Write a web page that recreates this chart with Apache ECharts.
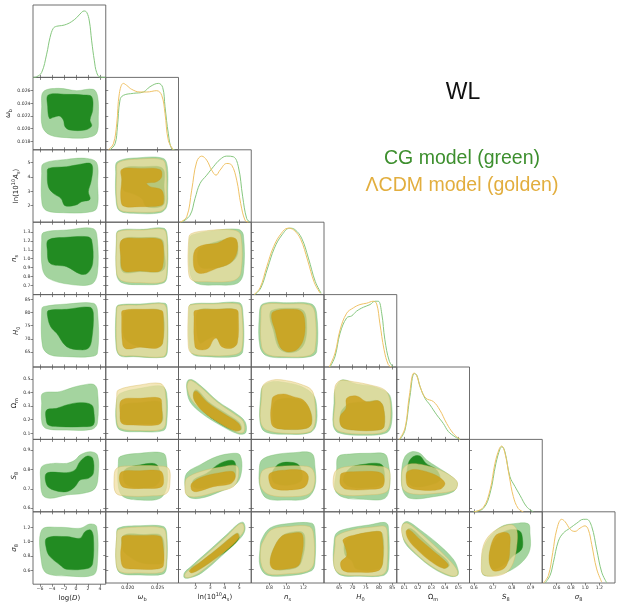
<!DOCTYPE html>
<html>
<head>
<meta charset="utf-8">
<script src="https://cdn.jsdelivr.net/npm/echarts@6/dist/echarts.min.js"></script>
<style>
  html, body { margin: 0; padding: 0; background: #fff; }
  #chart { width: 639px; height: 603px; }
</style>
</head>
<body>
<div id="chart"></div>
<script>
// Parameter order: log(D), ω_b, ln(10^10 A_s), n_s, H_0, Ω_m, S_8, σ_8
const xRanges = [[-7.167, 4.958], [0.01634, 0.02847], [0.814, 5.831], [0.5876, 1.4435], [59.23, 86.68], [0.0441, 0.583], [0.5762, 0.9611], [0.3965, 1.4211]];
const yRanges = [null, [0.01666, 0.0281], [0.848, 5.9], [0.596, 1.41], [59.26, 86.79], [0.0552, 0.5884], [0.5814, 0.9546], [0.4119, 1.4147]];
const xTicks = [[-6, -4, -2, 0, 2, 4], [0.020, 0.025], [2, 3, 4, 5], [0.8, 1.0, 1.2], [65, 70, 75, 80, 85], [0.1, 0.2, 0.3, 0.4, 0.5], [0.6, 0.7, 0.8, 0.9], [0.6, 0.8, 1.0, 1.2]];
const yTicks = [null, [0.018, 0.020, 0.022, 0.024, 0.026], [2, 3, 4, 5], [0.7, 0.8, 0.9, 1.0, 1.1, 1.2, 1.3], [65, 70, 75, 80, 85], [0.1, 0.2, 0.3, 0.4, 0.5], [0.6, 0.7, 0.8, 0.9], [0.6, 0.8, 1.0, 1.2]];
const tickDigits = [0, 3, 0, 1, 0, 1, 1, 1];
const paramLabels = [
  '{m|log(}{i|D}{m|)}',
  '{i|ω}{s|b}',
  '{m|ln(10}{p|10}{i|A}{s|s}{m|)}',
  '{i|n}{s|s}',
  '{i|H}{s|0}',
  '{m|Ω}{s|m}',
  '{i|S}{s|8}',
  '{i|σ}{s|8}'
];

// Marginal posteriors: [value, normalised density]
const logD_cg = [[-7.1,0],[-6.56,0.01],[-5.72,0.075],[-4.89,0.35],[-4.33,0.60],[-3.78,0.74],[-3.22,0.77],[-2.39,0.78],[-1.56,0.80],[-0.72,0.84],[0.11,0.90],[0.94,0.98],[1.33,1.0],[1.78,0.98],[2.22,0.85],[2.61,0.55],[3.06,0.25],[3.44,0.075],[4.0,0.005],[4.9,0]];
const wb_cg = [[0.01706,0],[0.01789,0.09],[0.01828,0.34],[0.01872,0.75],[0.01928,0.82],[0.02094,0.85],[0.02261,0.87],[0.02372,0.95],[0.02511,1.0],[0.02583,0.94],[0.02622,0.65],[0.02678,0.24],[0.02733,0.015],[0.0279,0]];
const wb_lc = [[0.01678,0],[0.01761,0.09],[0.01817,0.39],[0.01861,0.85],[0.01928,1.0],[0.01983,0.97],[0.02067,0.91],[0.02206,0.87],[0.02317,0.87],[0.02483,0.89],[0.02567,0.82],[0.02622,0.55],[0.02678,0.14],[0.02761,0]];
const As_cg = [[1.034,0],[1.609,0.105],[1.954,0.357],[2.299,0.583],[2.759,0.708],[3.218,0.834],[3.678,0.944],[4.138,0.995],[4.598,0.985],[4.943,0.834],[5.241,0.382],[5.517,0.055],[5.747,0]];
const As_lc = [[0.92,0],[1.379,0.08],[1.724,0.482],[2.069,0.909],[2.414,0.995],[2.759,0.934],[3.103,0.784],[3.402,0.708],[3.678,0.784],[4.138,0.884],[4.483,0.859],[4.828,0.633],[5.103,0.281],[5.402,0.03],[5.632,0]];
const ns_cg = [[0.63,0],[0.7,0.1],[0.78,0.4],[0.86,0.7],[0.95,0.9],[1.04,1.0],[1.1,0.98],[1.18,0.85],[1.26,0.55],[1.34,0.2],[1.41,0.02]];
const ns_lc = [[0.62,0],[0.69,0.1],[0.77,0.42],[0.85,0.72],[0.94,0.92],[1.02,1.0],[1.09,0.97],[1.17,0.83],[1.25,0.52],[1.33,0.18],[1.40,0.02]];
const H0_cg = [[61.5,0],[63.4,0.16],[65.3,0.51],[67.8,0.74],[69.7,0.77],[71.5,0.84],[74.1,0.90],[76.6,0.94],[78.5,0.99],[79.7,0.99],[81.0,0.81],[82.2,0.41],[83.9,0.085],[85.4,0]];
const H0_lc = [[61.2,0],[63.4,0.21],[65.3,0.56],[67.8,0.81],[70.3,0.89],[72.8,0.94],[75.3,0.96],[77.8,0.99],[79.1,0.95],[80.3,0.66],[81.9,0.26],[83.5,0.035],[84.7,0]];
const Om_cg = [[0.068,0],[0.105,0.14],[0.142,0.65],[0.174,0.99],[0.192,0.97],[0.216,0.8],[0.253,0.62],[0.29,0.52],[0.34,0.37],[0.389,0.24],[0.426,0.12],[0.475,0.04],[0.513,0]];
const Om_lc = [[0.063,0],[0.105,0.17],[0.137,0.65],[0.172,1.0],[0.192,0.96],[0.221,0.77],[0.26,0.62],[0.315,0.57],[0.364,0.44],[0.414,0.24],[0.463,0.09],[0.513,0]];
const S8_cg = [[0.596,0],[0.649,0.05],[0.685,0.28],[0.716,0.73],[0.738,0.95],[0.748,0.98],[0.764,0.9],[0.79,0.53],[0.817,0.38],[0.843,0.25],[0.879,0.075],[0.914,0]];
const S8_lc = [[0.6,0],[0.649,0.065],[0.685,0.33],[0.711,0.73],[0.734,0.95],[0.746,0.99],[0.764,0.88],[0.787,0.53],[0.808,0.23],[0.834,0.05],[0.861,0]];
const s8_cg = [[0.436,0],[0.506,0.115],[0.553,0.315],[0.623,0.64],[0.694,0.765],[0.788,0.84],[0.882,0.915],[0.976,0.975],[1.023,0.975],[1.093,0.865],[1.163,0.515],[1.234,0.165],[1.304,0.005]];
const s8_lc = [[0.412,0],[0.483,0.115],[0.544,0.465],[0.6,0.815],[0.67,0.975],[0.717,0.94],[0.797,0.815],[0.858,0.79],[0.929,0.84],[0.999,0.875],[1.046,0.815],[1.093,0.59],[1.163,0.215],[1.234,0.015]];

// 2D credible regions (95% and 68%), boundary points as [x, y]
const wb_D_cg95 = [[-5.44,0.02584],[-2.94,0.02637],[0.11,0.0260],[2.89,0.02621],[3.61,0.02505],[3.72,0.0219],[3.44,0.01927],[1.78,0.01858],[-1.56,0.01858],[-4.33,0.0190],[-5.61,0.02032],[-5.72,0.02348]];
const wb_D_cg68 = [[-4.61,0.02532],[-1.56,0.02542],[1.22,0.02532],[2.61,0.02505],[2.78,0.02295],[2.33,0.02137],[2.61,0.02042],[1.5,0.01979],[-1.0,0.01979],[-1.83,0.02032],[-2.11,0.02137],[-2.78,0.0220],[-3.78,0.02179],[-4.44,0.02163],[-4.72,0.02348]];

const As_D_cg95 = [[-5.44,4.93],[-1.56,5.23],[1.78,5.30],[3.44,5.0],[3.61,3.56],[3.44,1.81],[1.78,1.53],[-2.11,1.51],[-4.89,1.65],[-5.67,2.16],[-5.72,4.26]];
const As_D_cg68 = [[-4.61,4.60],[-1.56,4.72],[0.94,4.91],[2.44,4.95],[2.78,4.60],[2.5,3.67],[2.06,2.98],[2.33,2.44],[0.94,2.28],[0.0,2.05],[-1.83,2.0],[-2.5,2.51],[-3.78,2.86],[-4.61,3.33],[-4.78,4.26]];
const As_wb_cg95 = [[0.01828,5.07],[0.02206,5.35],[0.02594,5.30],[0.02661,4.72],[0.02667,3.09],[0.0265,1.93],[0.02539,1.51],[0.02094,1.47],[0.01861,1.65],[0.01806,2.40],[0.018,4.26]];
const As_wb_cg68 = [[0.01939,4.63],[0.02261,4.72],[0.02583,4.6],[0.02606,3.33],[0.02594,2.05],[0.02317,1.93],[0.02233,2.51],[0.02067,2.86],[0.01928,3.09],[0.01906,4.02]];
const As_wb_lc95 = [[0.01844,5.0],[0.02206,5.26],[0.02583,5.19],[0.02639,4.6],[0.0265,3.09],[0.02633,1.93],[0.02528,1.6],[0.02094,1.56],[0.01872,1.70],[0.01817,2.40],[0.01817,4.26]];
const As_wb_lc68 = [[0.019,4.53],[0.02206,4.6],[0.02539,4.53],[0.02567,4.02],[0.02483,3.67],[0.02317,3.56],[0.02372,3.33],[0.02567,3.09],[0.02594,2.16],[0.02511,1.98],[0.02206,1.93],[0.01928,1.98],[0.01883,2.63],[0.019,3.79]];

const ns_D_cg95 = [[-5.44,1.293],[-1.56,1.322],[2.89,1.337],[3.56,1.21],[3.56,0.835],[2.61,0.715],[-1.0,0.711],[-4.61,0.779],[-5.61,0.891],[-5.72,1.21]];
const ns_D_cg68 = [[-4.61,1.21],[-1.56,1.24],[1.89,1.247],[2.61,1.21],[2.78,0.948],[1.89,0.835],[0.67,0.828],[-1.56,0.91],[-4.33,0.948],[-4.78,1.098]];
const ns_wb_cg95 = [[0.01844,1.315],[0.02261,1.33],[0.02606,1.341],[0.02661,1.247],[0.02661,0.835],[0.02606,0.73],[0.02206,0.708],[0.019,0.73],[0.01817,0.816],[0.01811,1.21]];
const ns_wb_cg68 = [[0.01917,1.218],[0.02233,1.237],[0.02567,1.218],[0.02606,1.098],[0.02594,0.872],[0.02206,0.854],[0.01917,0.854],[0.01883,1.06]];
const ns_wb_lc95 = [[0.01844,1.304],[0.02261,1.322],[0.02594,1.33],[0.0265,1.247],[0.0265,0.835],[0.02594,0.741],[0.02206,0.73],[0.019,0.753],[0.01817,0.835],[0.01817,1.21]];
const ns_wb_lc68 = [[0.019,1.21],[0.02206,1.229],[0.02539,1.218],[0.02594,1.135],[0.02583,0.91],[0.02511,0.854],[0.02206,0.861],[0.01928,0.865],[0.01883,1.023]];
const ns_As_cg95 = [[1.724,1.266],[3.218,1.315],[4.943,1.33],[5.287,1.266],[5.287,0.835],[4.874,0.723],[3.448,0.704],[2.069,0.723],[1.609,0.835],[1.563,1.21]];
const ns_As_cg68 = [[2.299,1.116],[3.448,1.191],[4.598,1.229],[4.874,1.172],[4.828,1.023],[4.138,0.929],[2.989,0.891],[2.299,0.91],[2.115,1.023]];
const ns_As_lc95 = [[1.655,1.278],[2.759,1.315],[4.598,1.322],[5.103,1.266],[5.103,0.835],[4.598,0.753],[2.759,0.741],[1.724,0.76],[1.494,0.872],[1.517,1.21]];
const ns_As_lc68 = [[1.954,1.098],[2.529,1.153],[3.448,1.172],[4.368,1.24],[4.828,1.21],[4.828,1.06],[4.368,0.948],[3.448,0.891],[2.529,0.835],[2.023,0.854],[1.839,0.948]];

const H0_D_cg95 = [[-5.44,82.2],[-1.56,83.2],[2.89,83.5],[3.56,81.0],[3.56,64.5],[2.33,63.2],[-1.56,63.2],[-4.33,63.9],[-5.56,67.0],[-5.72,81.0]];
const H0_D_cg68 = [[-4.61,80.7],[-1.56,81.2],[2.33,82.0],[2.89,79.7],[2.61,69.6],[2.06,66.4],[0.67,65.8],[-1.56,67.0],[-3.22,72.1],[-4.22,74.6],[-4.72,78.4]];
const H0_wb_cg95 = [[0.01844,82.8],[0.02206,83.2],[0.02622,83.5],[0.02661,81.0],[0.02661,65.1],[0.02606,63.0],[0.02094,63.2],[0.01872,63.5],[0.01806,67.0],[0.01806,81.0]];
const H0_wb_cg68 = [[0.01956,80.3],[0.02261,81.0],[0.02567,80.3],[0.02583,68.4],[0.02483,66.8],[0.02206,67.0],[0.02039,68.4],[0.01939,70.8],[0.01928,77.2]];
const H0_wb_lc95 = [[0.01844,82.5],[0.02206,82.8],[0.02594,83.2],[0.0265,81.0],[0.0265,65.8],[0.02594,63.2],[0.02094,63.5],[0.01872,63.9],[0.01817,67.0],[0.01817,81.0]];
const H0_wb_lc68 = [[0.01917,80.7],[0.02261,81.2],[0.02567,80.7],[0.02594,78.4],[0.02583,68.4],[0.02483,66.4],[0.02206,66.8],[0.01983,66.1],[0.01917,67.7],[0.019,78.4]];
const H0_As_cg95 = [[1.655,83.1],[3.218,83.5],[5.011,83.7],[5.241,81.0],[5.241,65.1],[4.713,63.2],[2.759,63.2],[1.839,63.9],[1.563,67.0],[1.540,81.0]];
const H0_As_cg68 = [[2.184,80.7],[3.448,81.2],[4.782,81.0],[4.874,77.2],[4.782,67.7],[4.368,66.8],[3.793,67.7],[3.333,70.8],[2.759,69.6],[2.299,68.4],[2.069,73.5]];
const H0_As_lc95 = [[1.609,82.8],[3.218,83.2],[4.943,83.2],[5.172,81.0],[5.172,65.8],[4.598,63.9],[2.759,63.6],[1.724,64.5],[1.494,67.0],[1.494,81.0]];
const H0_As_lc68 = [[1.954,80.7],[3.448,81.2],[4.828,81.0],[4.943,78.4],[4.874,68.4],[4.483,66.4],[3.793,67.0],[3.448,70.2],[3.218,69.6],[2.874,66.4],[2.299,65.8],[1.954,67.0],[1.885,78.4]];
const H0_ns_cg95 = [[0.722,83.2],[1.004,83.7],[1.298,83.2],[1.357,79.7],[1.357,65.1],[1.278,63.2],[1.004,62.8],[0.769,63.5],[0.69,67.0],[0.682,78.4]];
const H0_ns_cg68 = [[0.827,80.7],[1.043,81.6],[1.2,80.7],[1.239,75.9],[1.22,68.9],[1.141,65.5],[1.004,64.8],[0.906,66.8],[0.847,73.4],[0.808,77.8]];
const H0_ns_lc95 = [[0.729,82.8],[1.004,83.2],[1.278,82.8],[1.337,79.7],[1.337,65.8],[1.259,63.5],[1.004,63.2],[0.788,63.9],[0.71,67.0],[0.702,78.4]];
const H0_ns_lc68 = [[0.847,80.3],[1.043,81.2],[1.180,80.3],[1.22,75.9],[1.2,69.6],[1.122,65.8],[1.004,65.1],[0.925,67.0],[0.867,73.4],[0.827,77.8]];

const Om_D_cg95 = [[-5.56,0.394],[-2.67,0.407],[-0.44,0.439],[1.22,0.456],[2.89,0.461],[3.56,0.419],[3.56,0.174],[2.61,0.129],[-1.56,0.124],[-4.89,0.134],[-5.67,0.174],[-5.72,0.321]];
const Om_D_cg68 = [[-4.89,0.272],[-3.22,0.284],[-1.56,0.309],[0.67,0.326],[2.61,0.309],[3.0,0.247],[2.89,0.161],[1.22,0.149],[-2.67,0.149],[-4.61,0.161],[-5.0,0.21]];
const Om_wb_cg95 = [[0.01872,0.394],[0.02206,0.431],[0.02567,0.448],[0.0265,0.394],[0.0265,0.174],[0.02594,0.12],[0.02206,0.112],[0.01872,0.124],[0.01806,0.186],[0.01817,0.345]];
const Om_wb_cg68 = [[0.01917,0.309],[0.02206,0.326],[0.02539,0.333],[0.02572,0.272],[0.02567,0.186],[0.02206,0.169],[0.01917,0.179],[0.01883,0.247]];
const Om_wb_lc95 = [[0.01844,0.419],[0.02206,0.456],[0.02539,0.468],[0.02622,0.419],[0.02633,0.174],[0.02567,0.129],[0.02206,0.12],[0.01872,0.137],[0.01817,0.198],[0.01817,0.37]];
const Om_wb_lc68 = [[0.019,0.345],[0.02206,0.358],[0.02539,0.358],[0.02567,0.296],[0.02567,0.186],[0.02483,0.161],[0.02094,0.161],[0.019,0.174],[0.01872,0.247]];
const Om_As_cg95 = [[1.448,0.488],[1.793,0.493],[2.414,0.444],[3.563,0.333],[4.713,0.252],[5.402,0.186],[5.448,0.105],[4.943,0.095],[3.678,0.161],[2.414,0.247],[1.609,0.333],[1.379,0.431]];
const Om_As_cg68 = [[1.954,0.419],[2.184,0.414],[2.874,0.333],[4.023,0.252],[5.011,0.179],[5.149,0.129],[4.713,0.117],[3.563,0.179],[2.414,0.272],[1.908,0.345],[1.839,0.39]];
const Om_As_lc95 = [[1.494,0.48],[1.724,0.488],[2.299,0.444],[3.448,0.333],[4.598,0.247],[5.287,0.186],[5.333,0.112],[4.943,0.105],[3.678,0.174],[2.529,0.259],[1.724,0.345],[1.425,0.431]];
const Om_As_lc68 = [[1.908,0.407],[2.115,0.407],[2.759,0.333],[3.908,0.247],[4.943,0.174],[5.103,0.129],[4.713,0.12],[3.678,0.174],[2.529,0.259],[1.954,0.333],[1.839,0.375]];
const Om_ns_cg95 = [[0.722,0.444],[0.827,0.48],[1.004,0.473],[1.18,0.444],[1.318,0.382],[1.357,0.296],[1.349,0.161],[1.278,0.105],[1.004,0.093],[0.749,0.112],[0.69,0.186],[0.698,0.37]];
const Om_ns_cg68 = [[0.867,0.333],[1.043,0.358],[1.2,0.333],[1.286,0.259],[1.298,0.174],[1.239,0.137],[1.004,0.129],[0.867,0.149],[0.839,0.235]];
const Om_ns_lc95 = [[0.729,0.456],[0.847,0.493],[1.004,0.488],[1.161,0.463],[1.298,0.419],[1.337,0.321],[1.337,0.174],[1.278,0.112],[1.004,0.1],[0.769,0.124],[0.698,0.186],[0.71,0.37]];
const Om_ns_lc68 = [[0.847,0.37],[0.965,0.39],[1.082,0.37],[1.2,0.345],[1.278,0.272],[1.298,0.174],[1.239,0.137],[1.004,0.129],[0.847,0.149],[0.816,0.223],[0.827,0.321]];
const Om_H0_cg95 = [[63.4,0.419],[65.9,0.493],[71.5,0.463],[77.8,0.444],[83.5,0.394],[84.7,0.321],[84.7,0.174],[82.9,0.105],[74.1,0.085],[64.6,0.105],[62.7,0.161],[63.0,0.321]];
const Om_H0_cg68 = [[69.0,0.321],[75.3,0.333],[79.7,0.34],[81.6,0.296],[81.9,0.149],[79.7,0.124],[70.3,0.124],[65.9,0.149],[65.5,0.247],[67.1,0.296]];
const Om_H0_lc95 = [[63.4,0.444],[65.3,0.488],[70.3,0.48],[76.6,0.456],[82.2,0.419],[84.1,0.345],[84.1,0.174],[82.2,0.112],[74.1,0.095],[65.3,0.112],[63.0,0.161],[63.4,0.321]];
const Om_H0_lc68 = [[67.8,0.358],[71.5,0.375],[75.3,0.333],[79.7,0.34],[81.6,0.296],[81.9,0.149],[79.7,0.124],[70.3,0.124],[65.9,0.149],[65.3,0.223],[67.5,0.284]];

const S8_D_cg95 = [[-5.72,0.814],[-3.78,0.831],[-1.56,0.831],[-0.17,0.848],[0.67,0.874],[2.33,0.891],[3.56,0.874],[3.72,0.78],[3.17,0.702],[1.22,0.677],[-1.56,0.668],[-4.33,0.651],[-5.56,0.668],[-5.89,0.745]];
const S8_D_cg68 = [[-4.89,0.78],[-1.56,0.783],[-0.17,0.797],[0.67,0.84],[1.89,0.869],[2.78,0.857],[2.89,0.78],[2.06,0.754],[0.67,0.745],[-0.17,0.711],[-1.56,0.685],[-3.78,0.694],[-4.89,0.72]];
const S8_wb_cg95 = [[0.01872,0.866],[0.02206,0.883],[0.02594,0.883],[0.0265,0.831],[0.0265,0.711],[0.02539,0.651],[0.02206,0.642],[0.01928,0.659],[0.01844,0.711],[0.01844,0.831]];
const S8_wb_cg68 = [[0.01983,0.806],[0.02206,0.823],[0.02428,0.831],[0.02511,0.814],[0.02539,0.745],[0.02428,0.711],[0.02094,0.708],[0.01956,0.728],[0.01928,0.78]];
const S8_wb_lc95 = [[0.01817,0.806],[0.02094,0.818],[0.02483,0.818],[0.02678,0.806],[0.02706,0.745],[0.0265,0.677],[0.02372,0.663],[0.01983,0.663],[0.01806,0.677],[0.01772,0.745]];
const S8_wb_lc68 = [[0.019,0.788],[0.02206,0.793],[0.02539,0.793],[0.02594,0.763],[0.02567,0.711],[0.02261,0.702],[0.01928,0.708],[0.01861,0.745]];
const S8_As_cg95 = [[1.379,0.78],[2.299,0.823],[3.448,0.866],[4.598,0.883],[5.057,0.874],[5.172,0.797],[4.828,0.728],[3.678,0.685],[2.299,0.651],[1.494,0.659],[1.264,0.711]];
const S8_As_cg68 = [[1.839,0.745],[2.759,0.78],[3.678,0.831],[4.598,0.845],[4.782,0.797],[4.598,0.745],[3.448,0.72],[2.299,0.702],[1.839,0.711]];
const S8_As_lc95 = [[1.379,0.754],[2.299,0.788],[3.678,0.811],[4.828,0.818],[4.943,0.763],[4.598,0.711],[3.448,0.685],[2.069,0.659],[1.379,0.668],[1.264,0.711]];
const S8_As_lc68 = [[1.724,0.728],[2.529,0.763],[3.678,0.783],[4.598,0.788],[4.713,0.754],[4.368,0.725],[3.218,0.711],[2.069,0.685],[1.724,0.694]];
const S8_ns_cg95 = [[0.71,0.848],[0.847,0.874],[1.082,0.886],[1.298,0.883],[1.337,0.814],[1.337,0.711],[1.239,0.651],[1.004,0.642],[0.769,0.651],[0.69,0.711],[0.682,0.797]];
const S8_ns_cg68 = [[0.847,0.797],[0.925,0.831],[1.082,0.835],[1.161,0.814],[1.18,0.745],[1.043,0.72],[0.867,0.728],[0.827,0.763]];
const S8_ns_lc95 = [[0.729,0.797],[0.886,0.814],[1.161,0.818],[1.298,0.806],[1.337,0.745],[1.278,0.677],[1.043,0.659],[0.808,0.668],[0.71,0.702],[0.69,0.754]];
const S8_ns_lc68 = [[0.808,0.78],[1.004,0.797],[1.2,0.793],[1.259,0.763],[1.22,0.711],[1.043,0.694],[0.847,0.702],[0.8,0.737]];
const S8_H0_cg95 = [[64.6,0.866],[69.0,0.879],[76.6,0.883],[82.2,0.879],[83.5,0.831],[84.1,0.728],[82.2,0.651],[74.1,0.646],[66.5,0.656],[63.4,0.694],[64.0,0.797]];
const S8_H0_cg68 = [[69.0,0.806],[74.1,0.826],[79.7,0.831],[81.6,0.814],[81.6,0.728],[77.8,0.708],[69.0,0.711],[66.5,0.745]];
const S8_H0_lc95 = [[64.0,0.797],[70.3,0.818],[79.1,0.818],[83.5,0.801],[84.1,0.745],[82.9,0.685],[75.3,0.668],[66.5,0.668],[63.4,0.694],[62.7,0.745]];
const S8_H0_lc68 = [[65.9,0.78],[70.3,0.788],[79.1,0.788],[81.6,0.771],[81.4,0.711],[76.6,0.697],[67.8,0.697],[65.5,0.72],[65.3,0.754]];
const S8_Om_cg95 = [[0.105,0.866],[0.155,0.891],[0.216,0.883],[0.266,0.848],[0.34,0.814],[0.451,0.763],[0.493,0.728],[0.463,0.685],[0.315,0.659],[0.142,0.651],[0.088,0.694],[0.081,0.797]];
const S8_Om_cg68 = [[0.13,0.831],[0.167,0.866],[0.216,0.869],[0.261,0.831],[0.34,0.797],[0.364,0.745],[0.29,0.72],[0.167,0.711],[0.122,0.745]];
const S8_Om_lc95 = [[0.093,0.806],[0.142,0.828],[0.241,0.823],[0.364,0.797],[0.451,0.763],[0.493,0.732],[0.475,0.694],[0.34,0.677],[0.167,0.673],[0.093,0.697],[0.081,0.763]];
const S8_Om_lc68 = [[0.122,0.788],[0.179,0.8],[0.266,0.788],[0.352,0.763],[0.401,0.728],[0.364,0.697],[0.216,0.694],[0.13,0.711],[0.113,0.754]];

const s8_D_cg95 = [[-5.72,1.163],[-2.67,1.2],[0.67,1.186],[2.33,1.246],[3.44,1.209],[3.56,0.701],[2.89,0.54],[-1.56,0.526],[-4.89,0.563],[-5.72,0.701]];
const s8_D_cg68 = [[-4.89,1.048],[-1.56,1.071],[0.67,1.048],[1.5,1.14],[2.44,1.163],[2.89,1.071],[2.78,0.701],[2.06,0.632],[-1.56,0.618],[-2.67,0.678],[-4.33,0.794],[-4.89,0.886]];
const s8_wb_cg95 = [[0.01844,1.186],[0.02206,1.218],[0.02594,1.209],[0.0265,1.117],[0.0265,0.655],[0.02594,0.54],[0.02206,0.526],[0.01872,0.554],[0.01806,0.701],[0.01817,1.071]];
const s8_wb_cg68 = [[0.01928,1.08],[0.02261,1.094],[0.02567,1.071],[0.02583,0.701],[0.02483,0.678],[0.02206,0.701],[0.02011,0.794],[0.01917,0.886]];
const s8_wb_lc95 = [[0.01844,1.163],[0.02206,1.2],[0.02583,1.186],[0.02639,1.094],[0.02639,0.655],[0.02567,0.563],[0.02206,0.554],[0.01872,0.572],[0.01806,0.701],[0.01817,1.071]];
const s8_wb_lc68 = [[0.01917,1.071],[0.02206,1.08],[0.02539,1.071],[0.02583,0.978],[0.02594,0.655],[0.02483,0.609],[0.02094,0.609],[0.01928,0.632],[0.01883,0.794],[0.019,0.978]];
const s8_As_cg95 = [[1.218,0.554],[1.609,0.632],[2.759,0.84],[4.138,1.094],[4.943,1.246],[5.287,1.265],[5.402,1.163],[5.103,1.048],[3.793,0.794],[2.414,0.554],[1.609,0.485],[1.218,0.485]];
const s8_As_cg68 = [[1.655,0.609],[2.414,0.724],[3.563,0.909],[4.552,1.08],[4.92,1.117],[5.011,1.061],[4.644,0.955],[3.563,0.78],[2.414,0.618],[1.793,0.563]];
const s8_As_lc95 = [[1.264,0.54],[1.609,0.609],[2.759,0.817],[4.138,1.071],[4.943,1.232],[5.241,1.246],[5.333,1.163],[5.057,1.071],[3.678,0.794],[2.299,0.563],[1.609,0.494],[1.287,0.494]];
const s8_As_lc68 = [[1.563,0.586],[2.299,0.701],[3.448,0.886],[4.483,1.061],[4.874,1.108],[4.966,1.048],[4.598,0.955],[3.448,0.771],[2.299,0.609],[1.724,0.554]];
const s8_ns_cg95 = [[0.71,1.025],[0.808,1.186],[1.004,1.246],[1.298,1.255],[1.337,1.163],[1.337,0.701],[1.298,0.586],[1.043,0.517],[0.769,0.526],[0.69,0.655],[0.69,0.886]];
const s8_ns_cg68 = [[0.855,0.909],[0.957,1.08],[1.102,1.135],[1.2,1.117],[1.22,0.978],[1.192,0.771],[1.141,0.646],[1.004,0.6],[0.855,0.609],[0.816,0.724]];
const s8_ns_lc95 = [[0.729,1.002],[0.827,1.163],[1.043,1.209],[1.27,1.209],[1.318,1.117],[1.325,0.701],[1.259,0.586],[1.004,0.54],[0.788,0.54],[0.71,0.655],[0.698,0.886]];
const s8_ns_lc68 = [[0.847,0.886],[0.945,1.071],[1.082,1.117],[1.18,1.108],[1.2,0.978],[1.18,0.794],[1.141,0.655],[1.004,0.609],[0.847,0.609],[0.808,0.701]];
const s8_H0_cg95 = [[64.0,1.117],[69.0,1.186],[76.6,1.232],[82.2,1.265],[83.5,1.209],[83.5,0.609],[81.6,0.517],[72.8,0.507],[65.3,0.526],[63.0,0.655],[63.0,0.978]];
const s8_H0_cg68 = [[67.8,1.025],[79.1,1.14],[81.4,1.094],[81.4,0.701],[79.7,0.609],[71.5,0.609],[69.7,0.724],[67.1,0.817]];
const s8_H0_lc95 = [[64.0,1.071],[70.3,1.163],[77.8,1.2],[82.2,1.209],[83.1,1.117],[82.9,0.609],[81.0,0.526],[72.8,0.517],[65.3,0.54],[63.0,0.655],[63.4,0.932]];
const s8_H0_lc68 = [[66.5,1.025],[71.5,1.094],[79.1,1.14],[81.0,1.117],[81.4,0.701],[79.7,0.586],[71.5,0.563],[66.5,0.586],[65.5,0.701],[67.8,0.794],[67.1,0.932]];
const s8_Om_cg95 = [[0.093,1.255],[0.13,1.274],[0.216,1.163],[0.34,0.978],[0.463,0.747],[0.5,0.586],[0.493,0.517],[0.438,0.507],[0.315,0.618],[0.192,0.803],[0.105,0.978],[0.083,1.163]];
const s8_Om_cg68 = [[0.122,1.163],[0.155,1.172],[0.229,1.048],[0.327,0.877],[0.414,0.738],[0.433,0.655],[0.393,0.618],[0.29,0.738],[0.197,0.895],[0.137,1.034]];
const s8_Om_lc95 = [[0.088,1.232],[0.122,1.255],[0.192,1.163],[0.315,0.955],[0.438,0.724],[0.493,0.586],[0.488,0.517],[0.438,0.517],[0.315,0.632],[0.192,0.817],[0.105,1.002],[0.08,1.14]];
const s8_Om_lc68 = [[0.113,1.14],[0.137,1.163],[0.216,1.025],[0.315,0.863],[0.401,0.724],[0.426,0.655],[0.389,0.618],[0.29,0.724],[0.192,0.886],[0.13,1.025]];
const s8_S8_cg95 = [[0.649,0.886],[0.685,1.071],[0.746,1.209],[0.808,1.246],[0.887,1.246],[0.896,1.117],[0.896,0.886],[0.861,0.724],[0.79,0.586],[0.702,0.517],[0.649,0.526],[0.641,0.655]];
const s8_S8_cg68 = [[0.693,0.932],[0.738,1.094],[0.79,1.163],[0.843,1.14],[0.857,1.025],[0.852,0.886],[0.808,0.794],[0.764,0.678],[0.702,0.609],[0.681,0.748]];
const s8_S8_lc95 = [[0.649,0.932],[0.685,1.094],[0.746,1.2],[0.799,1.232],[0.826,1.163],[0.826,0.932],[0.808,0.701],[0.773,0.563],[0.702,0.507],[0.646,0.54],[0.639,0.701]];
const s8_S8_lc68 = [[0.685,0.886],[0.711,1.071],[0.755,1.126],[0.787,1.094],[0.79,0.932],[0.782,0.724],[0.755,0.609],[0.702,0.586],[0.681,0.701]];

// Which regions belong to which panel: [row, col, CG 95%, CG 68%, ΛCDM 95%, ΛCDM 68%]
const panels = [
  [1, 0, wb_D_cg95, wb_D_cg68, null, null],
  [2, 0, As_D_cg95, As_D_cg68, null, null],
  [2, 1, As_wb_cg95, As_wb_cg68, As_wb_lc95, As_wb_lc68],
  [3, 0, ns_D_cg95, ns_D_cg68, null, null],
  [3, 1, ns_wb_cg95, ns_wb_cg68, ns_wb_lc95, ns_wb_lc68],
  [3, 2, ns_As_cg95, ns_As_cg68, ns_As_lc95, ns_As_lc68],
  [4, 0, H0_D_cg95, H0_D_cg68, null, null],
  [4, 1, H0_wb_cg95, H0_wb_cg68, H0_wb_lc95, H0_wb_lc68],
  [4, 2, H0_As_cg95, H0_As_cg68, H0_As_lc95, H0_As_lc68],
  [4, 3, H0_ns_cg95, H0_ns_cg68, H0_ns_lc95, H0_ns_lc68],
  [5, 0, Om_D_cg95, Om_D_cg68, null, null],
  [5, 1, Om_wb_cg95, Om_wb_cg68, Om_wb_lc95, Om_wb_lc68],
  [5, 2, Om_As_cg95, Om_As_cg68, Om_As_lc95, Om_As_lc68],
  [5, 3, Om_ns_cg95, Om_ns_cg68, Om_ns_lc95, Om_ns_lc68],
  [5, 4, Om_H0_cg95, Om_H0_cg68, Om_H0_lc95, Om_H0_lc68],
  [6, 0, S8_D_cg95, S8_D_cg68, null, null],
  [6, 1, S8_wb_cg95, S8_wb_cg68, S8_wb_lc95, S8_wb_lc68],
  [6, 2, S8_As_cg95, S8_As_cg68, S8_As_lc95, S8_As_lc68],
  [6, 3, S8_ns_cg95, S8_ns_cg68, S8_ns_lc95, S8_ns_lc68],
  [6, 4, S8_H0_cg95, S8_H0_cg68, S8_H0_lc95, S8_H0_lc68],
  [6, 5, S8_Om_cg95, S8_Om_cg68, S8_Om_lc95, S8_Om_lc68],
  [7, 0, s8_D_cg95, s8_D_cg68, null, null],
  [7, 1, s8_wb_cg95, s8_wb_cg68, s8_wb_lc95, s8_wb_lc68],
  [7, 2, s8_As_cg95, s8_As_cg68, s8_As_lc95, s8_As_lc68],
  [7, 3, s8_ns_cg95, s8_ns_cg68, s8_ns_lc95, s8_ns_lc68],
  [7, 4, s8_H0_cg95, s8_H0_cg68, s8_H0_lc95, s8_H0_lc68],
  [7, 5, s8_Om_cg95, s8_Om_cg68, s8_Om_lc95, s8_Om_lc68],
  [7, 6, s8_S8_cg95, s8_S8_cg68, s8_S8_lc95, s8_S8_lc68]
];
const marginals = [[logD_cg, null], [wb_cg, wb_lc], [As_cg, As_lc], [ns_cg, ns_lc], [H0_cg, H0_lc], [Om_cg, Om_lc], [S8_cg, S8_lc], [s8_cg, s8_lc]];

// ---- styling ----
const CELL_W = 72.75, CELL_H = 72.4, LEFT0 = 33, TOP0 = 5;
const DENSITY_MAX = 1.09;
const FILLS = {
  cg95: { fill: '#a4d49f', stroke: 'rgba(120,190,112,0.8)' },
  cg68: { fill: '#228b22', stroke: 'rgba(34,139,34,0.9)' },
  lc95: { fill: 'rgba(240,222,160,0.72)', stroke: 'rgba(214,184,96,0.8)' },
  lc68: { fill: 'rgba(205,160,25,0.85)', stroke: 'rgba(196,152,28,0.6)' }
};
const LINE_CG = '#86c77f', LINE_LC = '#efc266';
const TICK_COLOR = '#555';
const LABEL_FONT = 'DejaVu Sans';
const nameRich = {
  m: { fontSize: 7, fontFamily: LABEL_FONT, color: '#222', lineHeight: 10 },
  i: { fontSize: 7, fontFamily: LABEL_FONT, fontStyle: 'italic', color: '#222', lineHeight: 10 },
  s: { fontSize: 5, fontFamily: LABEL_FONT, color: '#222', lineHeight: 6, verticalAlign: 'bottom' },
  p: { fontSize: 5, fontFamily: LABEL_FONT, color: '#222', lineHeight: 6, verticalAlign: 'top' }
};

function tickFormatter(p) {
  return function (v) {
    let s = Number(v).toFixed(tickDigits[p]);
    if (s[0] === '-') s = '\u2212' + s.slice(1);
    return s;
  };
}

const grid = [], xAxis = [], yAxis = [], series = [];

function addGrid(i, j) {
  grid.push({
    left: LEFT0 + CELL_W * j, top: TOP0 + CELL_H * i, width: CELL_W, height: CELL_H,
    show: true, borderColor: '#5f5f5f', borderWidth: 0.9, backgroundColor: 'transparent'
  });
  return grid.length - 1;
}

function valueAxis(gi, range, ticks, pos, opts) {
  const showLabel = !!(opts && opts.label);
  return Object.assign({
    type: 'value', gridIndex: gi, position: pos, min: range[0], max: range[1],
    axisLine: { show: false, onZero: false },
    splitLine: { show: false },
    axisTick: { show: !!ticks, inside: false, length: 2.5, customValues: ticks || [], lineStyle: { color: TICK_COLOR, width: 0.7 } },
    axisLabel: { show: showLabel, customValues: ticks || [], fontSize: 4.6, fontFamily: LABEL_FONT, color: '#333', margin: 2.5, hideOverlap: false,
      formatter: opts && opts.fmt },
  }, opts && opts.extra || {});
}

function contourSeries(xi, yi, pts, style) {
  return {
    type: 'custom', xAxisIndex: xi, yAxisIndex: yi, clip: true, silent: true,
    data: pts, encode: { x: 0, y: 1 },
    renderItem: function (params, api) {
      if (params.dataIndex !== 0) return null;
      const points = pts.map(function (p) { return api.coord(p); });
      return {
        type: 'polygon',
        shape: { points: points, smooth: 0.35 },
        style: { fill: style.fill, stroke: style.stroke, lineWidth: 0.5 }
      };
    }
  };
}

// diagonal panels: 1D marginals
for (let p = 0; p < 8; p++) {
  const gi = addGrid(p, p);
  const bottom = p === 7;
  const xi = xAxis.length;
  xAxis.push(valueAxis(gi, xRanges[p], xTicks[p], 'bottom', {
    label: bottom, fmt: tickFormatter(p),
    extra: bottom ? { name: paramLabels[p], nameLocation: 'middle', nameGap: 9, nameTextStyle: { rich: nameRich } } : {}
  }));
  const yi = yAxis.length;
  yAxis.push({ type: 'value', gridIndex: gi, min: 0, max: DENSITY_MAX, show: false });
  const [cg, lc] = marginals[p];
  series.push({ type: 'line', xAxisIndex: xi, yAxisIndex: yi, data: cg, showSymbol: false, smooth: 0.4, clip: true, silent: true,
    lineStyle: { color: LINE_CG, width: 1 } });
  if (lc) series.push({ type: 'line', xAxisIndex: xi, yAxisIndex: yi, data: lc, showSymbol: false, smooth: 0.4, clip: true, silent: true,
    lineStyle: { color: LINE_LC, width: 1 } });
}

// off-diagonal panels: 2D credible regions
panels.forEach(function (pan) {
  const [i, j, cg95, cg68, lc95, lc68] = pan;
  const gi = addGrid(i, j);
  const bottom = i === 7, left = j === 0;
  const xi = xAxis.length;
  xAxis.push(valueAxis(gi, xRanges[j], xTicks[j], 'bottom', {
    label: bottom, fmt: tickFormatter(j),
    extra: bottom ? { name: paramLabels[j], nameLocation: 'middle', nameGap: 9, nameTextStyle: { rich: nameRich } } : {}
  }));
  xAxis.push(valueAxis(gi, xRanges[j], xTicks[j], 'top', {}));
  const yi = yAxis.length;
  yAxis.push(valueAxis(gi, yRanges[i], yTicks[i], 'left', {
    label: left, fmt: tickFormatter(i),
    extra: left ? { name: paramLabels[i], nameLocation: 'middle', nameGap: 12, nameTextStyle: { rich: nameRich } } : {}
  }));
  yAxis.push(valueAxis(gi, yRanges[i], yTicks[i], 'right', {}));
  if (cg95) series.push(contourSeries(xi, yi, cg95, FILLS.cg95));
  if (cg68) series.push(contourSeries(xi, yi, cg68, FILLS.cg68));
  if (lc95) series.push(contourSeries(xi, yi, lc95, FILLS.lc95));
  if (lc68) series.push(contourSeries(xi, yi, lc68, FILLS.lc68));
});

const chart = echarts.init(document.getElementById('chart'), null, { renderer: 'canvas' });
chart.setOption({
  animation: false,
  backgroundColor: '#fff',
  grid: grid, xAxis: xAxis, yAxis: yAxis, series: series,
  graphic: [
    { type: 'text', x: 463, y: 93, style: { text: 'WL', fontSize: 23, fontFamily: 'Liberation Sans', fill: '#111', align: 'center', verticalAlign: 'middle' } },
    { type: 'text', x: 462, y: 159, style: { text: 'CG model (green)', fontSize: 19.5, fontFamily: 'Liberation Sans', fill: '#3d8f2e', align: 'center', verticalAlign: 'middle' } },
    { type: 'text', x: 462, y: 186, style: { text: '\u039BCDM model (golden)', fontSize: 19.5, fontFamily: 'Liberation Sans', fill: '#e2ae3e', align: 'center', verticalAlign: 'middle' } }
  ]
});
</script>
</body>
</html>
